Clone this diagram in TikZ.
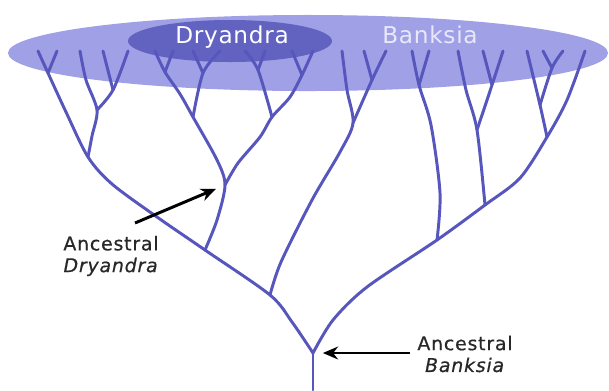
\documentclass[tikz,border=0pt]{standalone}
\usepackage{fontspec}
\setmainfont{DejaVu Sans}
\newfontfamily\cladefont[LetterSpace=3]{DejaVu Sans}
\newfontfamily\notefont[LetterSpace=4,FakeBold=0.6]{DejaVu Sans}
\usepackage{tikz}
\usetikzlibrary{arrows.meta,positioning,shapes.geometric}
\definecolor{treeblue}{RGB}{86,86,188}
\definecolor{ovallight}{RGB}{160,160,230}
\definecolor{ovaldark}{RGB}{98,98,192}
\definecolor{ovaltext}{RGB}{232,232,250}
\definecolor{labelgrey}{RGB}{40,40,40}

\begin{document}
\begin{tikzpicture}[x=0.025cm, y=-0.025cm,
    branch/.style={treeblue, line width=2.1pt, line cap=round, line join=round},
    oval/.style={ellipse, inner sep=0pt},
    cladename/.style={font=\cladefont\fontsize{16.5}{19}\selectfont, inner sep=0pt},
    note/.style={font=\notefont\fontsize{13.5}{15.5}\selectfont,
                 text=labelgrey, align=center},
    arr/.style={-{Stealth[length=3.8mm, width=3.2mm]}, line width=2.1pt, black},
  ]
  \useasboundingbox (0,0) rectangle (609,390);

  % Ovals
  \node[oval, fill=ovallight, minimum width=15cm, minimum height=1.9cm]
    (bankoval) at (308,53) {};
  \node[oval, fill=ovaldark, minimum width=5.1cm, minimum height=1.05cm]
    (dryoval) at (230,41) {};

  % Tips
  \foreach \n/\x in {1/38, 2/57, 3/80, 4/103, 5/128, 6/155, 7/173, 8/193,
                     9/220, 10/245, 11/265, 12/292, 13/313, 14/342, 15/364,
                     16/386, 17/412, 18/429, 19/458, 20/483, 21/503, 22/527,
                     23/543, 24/563, 25/585}
    \coordinate (t\n) at (\x,51);

  % Forks
  \coordinate (root) at (313,390);
  \coordinate (ancB) at (313,353);
  \coordinate (l1) at (270,295);
  \coordinate (l2) at (205,250);
  \coordinate (l3) at (88,157);
  \coordinate (l3a) at (48,73);
  \coordinate (l3b) at (97,110);
  \coordinate (l3c) at (113,90);
  \coordinate (ancD) at (225,185);
  \coordinate (dl) at (193,117);
  \coordinate (dla) at (165,72);
  \coordinate (dlb) at (203,73);
  \coordinate (dr) at (272,117);
  \coordinate (dra) at (258,70);
  \coordinate (drb) at (302,75);
  \coordinate (b1) at (353,123);
  \coordinate (b1a) at (372,80);
  \coordinate (r1) at (437,240);
  \coordinate (r1a) at (419,85);
  \coordinate (r2) at (485,205);
  \coordinate (r2a) at (477,130);
  \coordinate (r2b) at (492,85);
  \coordinate (r3) at (547,137);
  \coordinate (r3a) at (540,105);
  \coordinate (r3b) at (552,68);

  % Trunk and left spine
  \draw[branch] (root) -- (ancB);
  \draw[branch] plot[smooth] coordinates {(ancB) (292,322) (l1) (l2) (157,217)
    (112,184) (l3) (66,112) (l3a) (t1)};
  \draw[branch] (l3a) -- (t2);
  \draw[branch] plot[smooth] coordinates {(l3) (92,136) (l3b) (86,80) (t3)};
  \draw[branch] plot[smooth] coordinates {(l3b) (l3c) (t5)};
  \draw[branch] (l3c) -- (t4);

  % Dryandra clade
  \draw[branch] plot[smooth] coordinates {(l2) (217,220) (ancD) (217,160) (dl)
    (180,94) (dla) (t6)};
  \draw[branch] (dla) -- (t7);
  \draw[branch] plot[smooth] coordinates {(dl) (dlb) (t9)};
  \draw[branch] (dlb) -- (t8);
  \draw[branch] plot[smooth] coordinates {(ancD) (238,163) (260,137) (dr)
    (290,97) (drb) (t13)};
  \draw[branch] plot[smooth] coordinates {(dr) (dra) (t10)};
  \draw[branch] (dra) -- (t11);
  \draw[branch] (drb) -- (t12);

  % Branch from l1
  \draw[branch] plot[smooth] coordinates {(l1) (281,262) (312,200) (340,152)
    (b1) (347,90) (t14)};
  \draw[branch] plot[smooth] coordinates {(b1) (b1a) (t16)};
  \draw[branch] (b1a) -- (t15);

  % Right spine
  \draw[branch] plot[smooth] coordinates {(ancB) (333,320) (367,287) (r1) (r2)
    (520,178) (r3) (567,100) (t25)};
  \draw[branch] plot[smooth] coordinates {(r1) (440,193) (431,125) (r1a) (t17)};
  \draw[branch] (r1a) -- (t18);
  \draw[branch] plot[smooth] coordinates {(r2) (r2a) (466,90) (t19)};
  \draw[branch] plot[smooth] coordinates {(r2a) (r2b) (t21)};
  \draw[branch] (r2b) -- (t20);
  \draw[branch] plot[smooth] coordinates {(r3) (r3a) (t22)};
  \draw[branch] plot[smooth] coordinates {(r3a) (r3b) (t24)};
  \draw[branch] (r3b) -- (t23);

  % Clade names
  \node[cladename, text=white] (drytext) at (232,37) {Dryandra};
  \node[cladename, text=ovaltext] (banktext) at (430,35) {Banksia};

  % Ancestors
  \node[note] (ancDlabel) at (111,256) {Ancestral\\\textit{Dryandra}};
  \node[note] (ancBlabel) at (465,354) {Ancestral\\\textit{Banksia}};
  \coordinate (dtail) at (135,223);

  \draw[arr, shorten >=7pt] (dtail) -- (ancD);
  \draw[arr, shorten >=7pt] ([xshift=-2pt]ancBlabel.west |- ancB) -- (ancB);
\end{tikzpicture}
\end{document}
